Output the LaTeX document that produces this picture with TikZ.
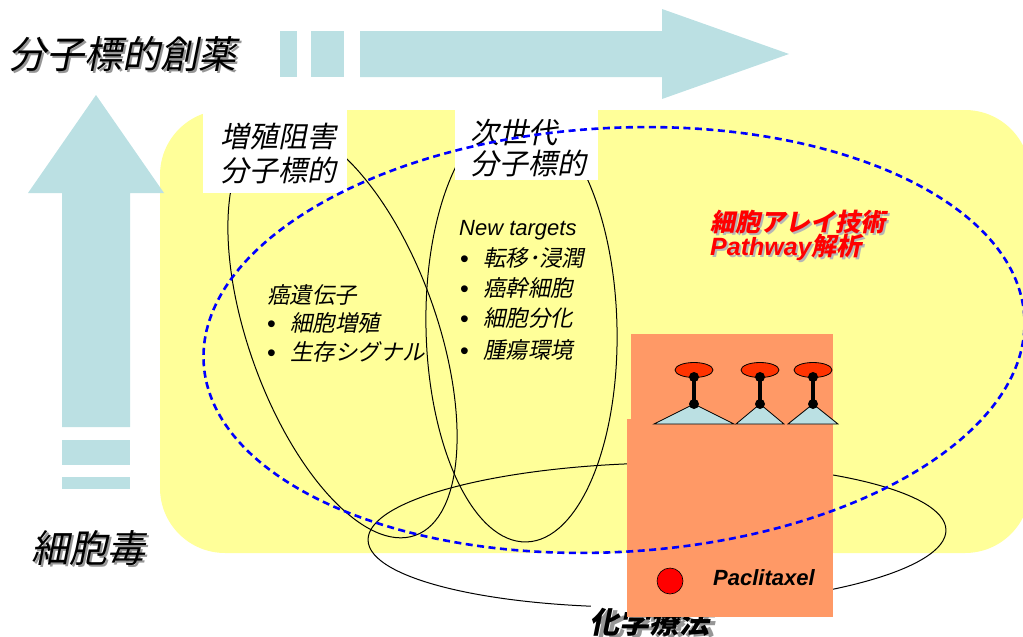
\documentclass[tikz,border=0pt]{standalone}
\usepackage{fontspec}
\setmainfont{Liberation Sans}
\newfontfamily\jp{Noto Sans CJK JP}[FakeSlant=0.2, BoldFeatures={FakeSlant=0.2}]
\usetikzlibrary{shapes.geometric}

\definecolor{pale}{RGB}{255,255,153}
\definecolor{aqua}{RGB}{187,224,227}
\definecolor{salmon}{RGB}{255,153,102}
\definecolor{capred}{RGB}{255,51,0}
\definecolor{shade}{RGB}{150,150,150}

\tikzset{
  txt/.style={inner sep=0pt, anchor=base west},
  big/.style={txt, font=\jp\fontsize{38}{40}\selectfont},
  label/.style={txt, font=\jp\fontsize{29}{31}\selectfont},
  item/.style={txt, font=\jp\fontsize{22.5}{24}\selectfont},
  dot/.style={txt, font=\fontsize{25}{26}\selectfont},
  ring/.style={draw=black, line width=1pt},
  hint/.style={draw=blue, line width=2.6pt, dash pattern=on 7pt off 4.5pt},
  redtxt/.style={txt, text=red, font=\bfseries\itshape\fontsize{25}{27}\selectfont},
}

\begin{document}
\begin{tikzpicture}[x=1pt,y=-1pt]
\useasboundingbox (0,0) rectangle (1023,637);

% pale working area
\fill[pale, rounded corners=65pt] (160,110) rectangle (1030,553);

% vertical progress arrow
\fill[aqua] (96,95) -- (164,193) -- (130,193) -- (130,427) -- (62,427)
  -- (62,193) -- (28,193) -- cycle;
\fill[aqua] (62,440) rectangle (130,465);
\fill[aqua] (62,477) rectangle (130,489);

% horizontal progress arrow
\fill[aqua] (360,31) -- (662,31) -- (662,9) -- (789,54) -- (662,99)
  -- (662,77) -- (360,77) -- cycle;
\fill[aqua] (280,31) rectangle (297,77);
\fill[aqua] (311,31) rectangle (344,77);

% axis captions with drop shadow
\node[big, text=shade] (titleS) at (10.5,70.5) {分子標的創薬};
\node[big] (title) at (8,68) {分子標的創薬};
\node[big, text=shade] (cytoS) at (33.5,564.5) {細胞毒};
\node[big] (cyto) at (31,562) {細胞毒};

% target groups
\draw[ring] (342.5,332) ellipse [x radius=94, y radius=216, rotate=19.7];
\draw[ring] (521.5,328) ellipse [x radius=95.5, y radius=214, rotate=1.3];
\draw[ring] (657,535) ellipse [x radius=289, y radius=72, rotate=1];

% group headings on white cards
\fill[white] (203,108) rectangle (347,193);
\fill[white] (455,108) rectangle (598,180);
\node[label] (g1a) at (220,147) {増殖阻害};
\node[label] (g1b) at (220,181) {分子標的};
\node[label] (g2a) at (470,143) {次世代};
\node[label] (g2b) at (470,174) {分子標的};

% oncogene list
\node[item] (onc) at (267,303) {癌遺伝子};
\node[dot] (b1) at (267,332) {•};
\node[item] (onc1) at (290,331) {細胞増殖};
\node[dot] (b2) at (267,361) {•};
\node[item] (onc2) at (290,360) {生存シグナル};

% new targets list
\node[txt, font=\itshape\fontsize{22}{24}\selectfont] (nt) at (459,235) {New targets};
\node[dot] (c1) at (460,267) {•};
\node[item] (nt1) at (483,266) {転移･浸潤};
\node[dot] (c2) at (460,297) {•};
\node[item] (nt2) at (483,296) {癌幹細胞};
\node[dot] (c3) at (460,327) {•};
\node[item] (nt3) at (483,326) {細胞分化};
\node[dot] (c4) at (460,359) {•};
\node[item] (nt4) at (483,358) {腫瘍環境};

% chemotherapy caption
\node[txt, fill=white, inner xsep=3pt, inner ysep=5pt, text=shade,
  font=\jp\bfseries\fontsize{30}{32}\selectfont] (chemS) at (591,635) {化学療法};
\node[txt, font=\jp\bfseries\fontsize{30}{32}\selectfont] (chem) at (589,633) {化学療法};

% cell array panel
\fill[salmon] (631,334) rectangle (833,420);
\fill[salmon] (627,419) rectangle (833,617);

% receptors
\foreach \cx/\hw in {694/40, 760/24, 813/25}{
  \filldraw[fill=aqua, draw=black, line width=0.8pt]
    (\cx,404) -- (\cx+\hw,424) -- (\cx-\hw,424) -- cycle;
  \filldraw[fill=capred, draw=black, line width=0.8pt]
    (\cx,370) ellipse [x radius=19, y radius=7.5];
  \draw[line width=3.2pt] (\cx,377) -- (\cx,404);
  \fill (\cx,377) circle [radius=5];
  \fill (\cx,404) circle [radius=5];
}

% drug
\filldraw[fill=red, draw=black, line width=0.6pt] (670,581) circle [radius=13];
\node[txt, font=\bfseries\itshape\fontsize{22}{24}\selectfont] (drug) at (713,585) {Paclitaxel};

% cell array / pathway scope
\draw[hint] (614,340) ellipse [x radius=411, y radius=212, rotate=3.2];

% technology caption
\node[redtxt, text=shade!70] (techS) at (712,233) {\jp 細胞アレイ技術};
\node[redtxt] (tech) at (710,231) {\jp 細胞アレイ技術};
\node[redtxt, text=shade!70] (pathS) at (712,257) {Pathway{\jp 解析}};
\node[redtxt] (path) at (710,255) {Pathway{\jp 解析}};
\end{tikzpicture}
\end{document}
